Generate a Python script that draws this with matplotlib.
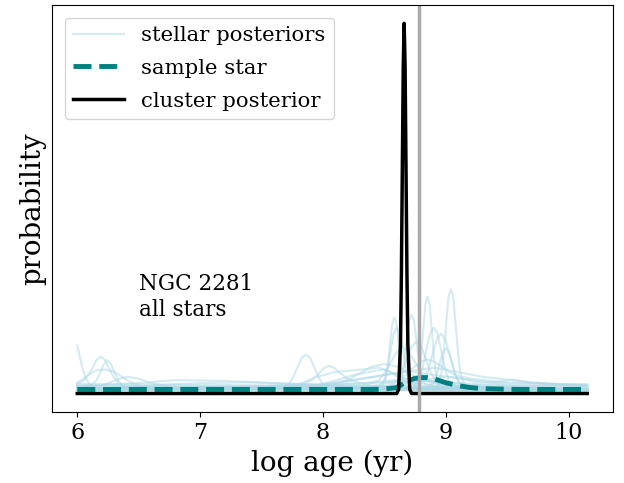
import numpy as np
import matplotlib
matplotlib.use("Agg")
import matplotlib.pyplot as plt

plt.rcParams['font.family'] = ['DejaVu Serif']

# stellar posteriors (log age, relative probability)
stellar_ages = [
    [6.0, 6.02, 6.04, 6.07, 6.1, 6.15, 6.3, 7.0, 8.0, 9.0, 10.15],
    [6.0, 6.05, 6.09, 6.12, 6.155, 6.19, 6.225, 6.26, 6.295, 6.33, 6.4, 6.6, 8.0, 10.15],
    [6.0, 6.08, 6.125, 6.155, 6.185, 6.215, 6.245, 6.275, 6.305, 6.335, 6.365, 6.42, 6.6, 10.15],
    [6.0, 6.05, 6.1, 6.15, 6.22, 6.29, 6.35, 6.42, 6.5, 6.7, 10.15],
    [6.0, 6.2, 6.3, 6.36, 6.42, 6.5, 6.6, 6.75, 7.0, 10.15],
    [6.0, 6.4, 6.8, 7.2, 7.6, 8.0, 8.5, 9.0, 10.15],
    [6.0, 6.5, 7.0, 7.4, 7.8, 8.2, 8.6, 9.2, 10.15],
    [6.0, 7.5, 7.65, 7.72, 7.755, 7.79, 7.825, 7.86, 7.895, 7.93, 7.965, 8.0, 8.07, 10.15],
    [6.0, 7.7, 7.82, 7.91, 7.96, 8.005, 8.05, 8.095, 8.14, 8.19, 8.28, 8.4, 10.15],
    [6.0, 7.6, 7.8, 7.95, 8.1, 8.3, 8.45, 8.55, 8.65, 8.8, 9.2, 10.15],
    [6.0, 7.9, 8.1, 8.25, 8.4, 8.5, 8.6, 8.75, 9.0, 10.15],
    [6.0, 8.3, 8.475, 8.51, 8.5275, 8.545, 8.5625, 8.58, 8.5975, 8.615, 8.6325, 8.65, 8.685, 9.0, 10.15],
    [6.0, 8.4, 8.6, 8.64, 8.66, 8.68, 8.70, 8.72, 8.74, 8.76, 8.78, 8.80, 8.84, 9.2, 10.15],
    [6.0, 8.5, 8.745, 8.78, 8.7975, 8.815, 8.8325, 8.85, 8.8675, 8.885, 8.9025, 8.92, 8.955, 9.3, 10.15],
    [6.0, 8.7, 8.92, 8.96, 8.98, 9.0, 9.02, 9.04, 9.06, 9.08, 9.10, 9.12, 9.16, 9.5, 10.15],
    [6.0, 8.5, 8.72, 8.78, 8.81, 8.84, 8.87, 8.9, 8.93, 8.96, 8.99, 9.02, 9.08, 9.4, 10.15],
    [6.0, 8.6, 8.75, 8.82, 8.855, 8.89, 8.925, 8.96, 8.995, 9.03, 9.065, 9.10, 9.17, 9.5, 10.15],
    [6.0, 8.4, 8.52, 8.6, 8.64, 8.68, 8.72, 8.76, 8.80, 8.84, 8.88, 8.92, 9.0, 9.4, 10.15],
    [6.0, 8.2, 8.35, 8.45, 8.5, 8.55, 8.6, 8.65, 8.7, 8.75, 8.8, 8.85, 8.95, 9.3, 10.15],
    [6.0, 8.3, 8.5, 8.61, 8.67, 8.73, 8.79, 8.85, 8.91, 8.97, 9.03, 9.09, 9.2, 9.5, 10.0, 10.15],
    [6.0, 8.5, 8.8, 9.0, 9.1, 9.25, 9.4, 9.54, 9.68, 9.85, 10.15],
    [6.0, 7.9, 8.1, 8.2, 8.3, 8.4, 8.5, 8.6, 8.7, 8.8, 8.95, 9.2, 10.15],
    [6.0, 8.7, 8.85, 8.9, 8.925, 8.95, 8.975, 9.0, 9.025, 9.05, 9.075, 9.1, 9.15, 9.4, 10.15],
    [6.0, 8.3, 8.45, 8.5, 8.525, 8.55, 8.575, 8.6, 8.625, 8.65, 8.675, 8.7, 8.75, 9.1, 10.15],
    [6.0, 6.6, 7.3, 7.9, 8.4, 8.7, 9.2, 9.8, 10.15],
    [6.0, 7.0, 8.0, 8.5, 8.8, 9.3, 10.15],
    [6.0, 6.8, 7.5, 8.1, 8.5, 8.7, 8.9, 9.4, 10.15],
    [6.0, 7.2, 7.9, 8.3, 8.6, 8.9, 9.3, 9.7, 10.15],
]
stellar_probs = [
    [0.13, 0.10, 0.07, 0.04, 0.025, 0.016, 0.012, 0.010, 0.010, 0.010, 0.008],
    [0.025, 0.035, 0.05, 0.066, 0.09, 0.10, 0.09, 0.066, 0.045, 0.028, 0.016, 0.012, 0.010, 0.008],
    [0.015, 0.018, 0.025, 0.035, 0.055, 0.079, 0.09, 0.079, 0.055, 0.035, 0.022, 0.014, 0.012, 0.010],
    [0.03, 0.04, 0.052, 0.062, 0.065, 0.06, 0.048, 0.033, 0.02, 0.013, 0.010],
    [0.02, 0.022, 0.034, 0.042, 0.045, 0.04, 0.028, 0.018, 0.014, 0.010],
    [0.018, 0.026, 0.036, 0.034, 0.028, 0.022, 0.016, 0.012, 0.010],
    [0.012, 0.02, 0.028, 0.03, 0.026, 0.02, 0.016, 0.012, 0.011],
    [0.010, 0.010, 0.012, 0.024, 0.043, 0.069, 0.096, 0.105, 0.096, 0.069, 0.043, 0.024, 0.012, 0.010],
    [0.010, 0.013, 0.022, 0.036, 0.052, 0.068, 0.075, 0.068, 0.055, 0.042, 0.03, 0.02, 0.010],
    [0.010, 0.014, 0.025, 0.045, 0.058, 0.064, 0.07, 0.058, 0.035, 0.02, 0.013, 0.010],
    [0.012, 0.018, 0.035, 0.05, 0.06, 0.065, 0.05, 0.03, 0.016, 0.011],
    [0.012, 0.014, 0.016, 0.040, 0.077, 0.133, 0.188, 0.205, 0.188, 0.133, 0.077, 0.040, 0.016, 0.012, 0.010],
    [0.012, 0.016, 0.02, 0.045, 0.085, 0.142, 0.198, 0.213, 0.198, 0.142, 0.085, 0.045, 0.022, 0.014, 0.011],
    [0.010, 0.012, 0.014, 0.047, 0.097, 0.170, 0.241, 0.262, 0.241, 0.170, 0.097, 0.047, 0.016, 0.012, 0.010],
    [0.010, 0.012, 0.014, 0.05, 0.103, 0.182, 0.259, 0.282, 0.259, 0.182, 0.103, 0.05, 0.018, 0.013, 0.011],
    [0.012, 0.014, 0.018, 0.037, 0.069, 0.117, 0.163, 0.178, 0.163, 0.117, 0.069, 0.037, 0.02, 0.015, 0.012],
    [0.011, 0.014, 0.018, 0.034, 0.063, 0.105, 0.146, 0.162, 0.146, 0.105, 0.063, 0.034, 0.02, 0.016, 0.012],
    [0.012, 0.016, 0.02, 0.031, 0.054, 0.09, 0.126, 0.14, 0.126, 0.09, 0.054, 0.031, 0.02, 0.015, 0.012],
    [0.014, 0.02, 0.024, 0.035, 0.055, 0.083, 0.112, 0.125, 0.112, 0.083, 0.055, 0.035, 0.024, 0.017, 0.013],
    [0.012, 0.018, 0.025, 0.035, 0.05, 0.068, 0.085, 0.092, 0.085, 0.072, 0.058, 0.048, 0.04, 0.03, 0.024, 0.024],
    [0.012, 0.018, 0.035, 0.046, 0.042, 0.03, 0.03, 0.038, 0.03, 0.026, 0.025],
    [0.014, 0.02, 0.028, 0.036, 0.055, 0.073, 0.08, 0.073, 0.055, 0.036, 0.025, 0.018, 0.014],
    [0.011, 0.014, 0.017, 0.03, 0.051, 0.083, 0.111, 0.122, 0.111, 0.083, 0.051, 0.03, 0.017, 0.014, 0.011],
    [0.012, 0.015, 0.018, 0.036, 0.068, 0.116, 0.162, 0.178, 0.162, 0.116, 0.068, 0.036, 0.018, 0.014, 0.011],
    [0.022, 0.02, 0.018, 0.02, 0.03, 0.04, 0.025, 0.02, 0.02],
    [0.016, 0.018, 0.022, 0.03, 0.035, 0.022, 0.018],
    [0.026, 0.024, 0.022, 0.026, 0.05, 0.06, 0.05, 0.028, 0.022],
    [0.014, 0.016, 0.02, 0.04, 0.055, 0.07, 0.045, 0.03, 0.02],
]

# sample star posterior
sample_ages = [6.0, 7.0, 8.0, 8.4, 8.5, 8.6, 8.65, 8.7, 8.75, 8.8, 8.85, 8.9, 9.0, 9.1, 9.2, 9.3, 9.45, 9.6, 9.8, 10.0, 10.15]
sample_probs = [0.011, 0.011, 0.011, 0.011, 0.012, 0.016, 0.026, 0.036, 0.041, 0.043, 0.043, 0.040, 0.029, 0.021, 0.016, 0.013, 0.012, 0.011, 0.011, 0.011, 0.011]

# cluster posterior
cluster_ages = [6.0, 8.6, 8.615, 8.63, 8.6375, 8.645, 8.6525, 8.66, 8.6675, 8.675, 8.6825, 8.69, 8.705, 8.72, 10.15]
cluster_probs = [0.0, 0.0, 0.011, 0.135, 0.325, 0.607, 0.882, 1.0, 0.882, 0.607, 0.325, 0.135, 0.011, 0.0, 0.0]

true_age = 8.78

fig = plt.figure(figsize=(6.24, 4.83), dpi=100)
ax = fig.add_axes([0.083, 0.147, 0.899, 0.843])

for i in range(len(stellar_ages)):
    lab = 'stellar posteriors' if i == 0 else None
    ax.plot(stellar_ages[i], stellar_probs[i], color='lightblue', alpha=0.5, lw=1.5, label=lab)

ax.plot(sample_ages, sample_probs, color='teal', ls='--', lw=3.5, label='sample star')
ax.plot(cluster_ages, cluster_probs, color='black', lw=2.5, label='cluster posterior')
ax.axvline(true_age, color='darkgray', lw=2.5)

ax.text(6.5, 0.21, 'NGC 2281\nall stars', fontsize=15.5)

ax.set_yticks([])
ax.set_xticks([6, 7, 8, 9, 10])
ax.tick_params(axis='x', labelsize=16)
ax.set_xlabel('log age (yr)', fontsize=20)
ax.set_ylabel('probability', fontsize=20)
ax.legend(loc='upper left', fontsize=15.3, handlelength=2.4, labelspacing=0.65,
          borderaxespad=0.6)

fig.savefig('out.png', dpi=100)
